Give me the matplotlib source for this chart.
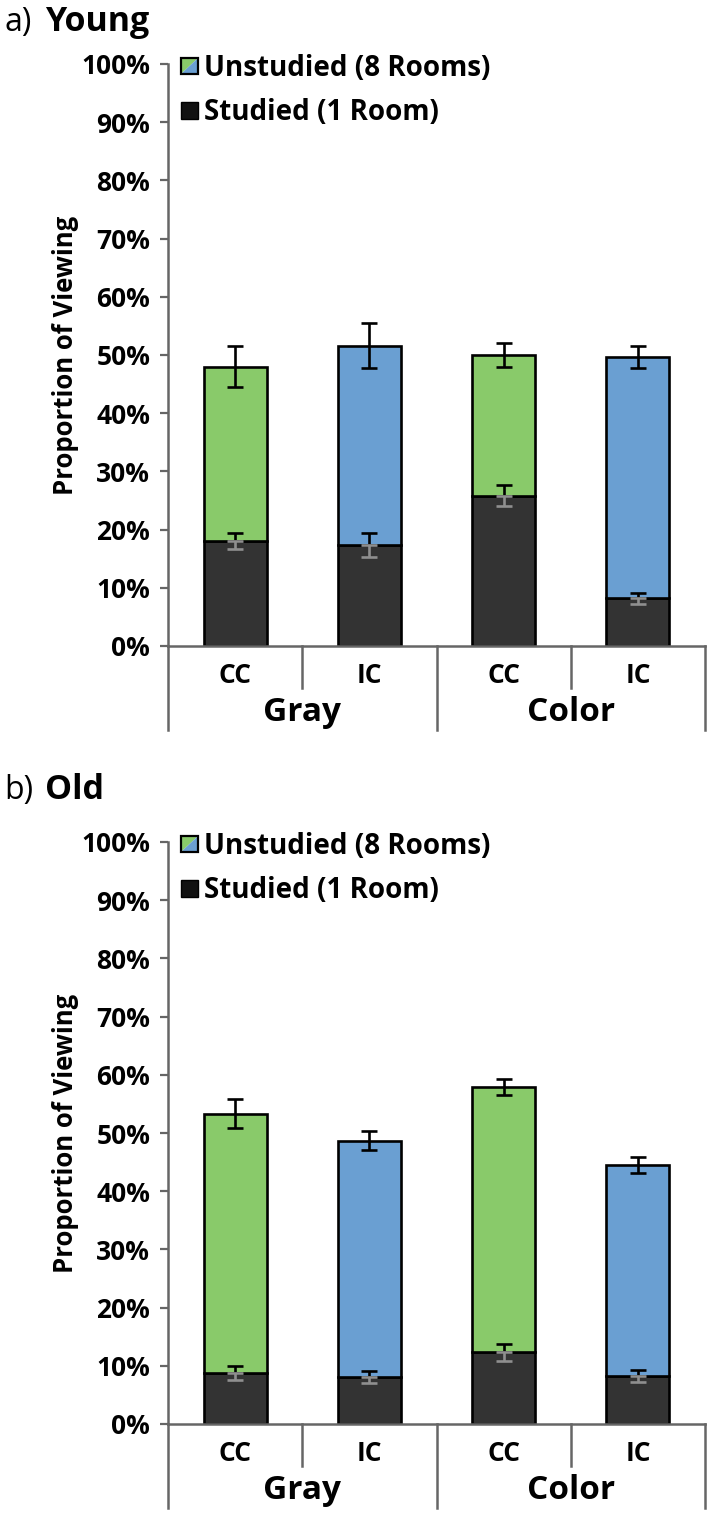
import numpy as np
import matplotlib
matplotlib.use("Agg")
import matplotlib.pyplot as plt
from matplotlib.legend_handler import HandlerBase
from matplotlib.patches import Polygon, Rectangle, Patch
import matplotlib.ticker as ticker

plt.rcParams['font.family'] = ['Open Sans', 'DejaVu Sans']

# ---- data (percent) ----
conditions = ["CC", "IC", "CC", "IC"]
groups = ["Gray", "Color"]

young_studied = [18.0, 17.4, 25.8, 8.2]
young_studied_err = [1.4, 2.1, 1.8, 0.9]
young_total = [48.0, 51.6, 50.0, 49.6]
young_total_err = [3.5, 3.9, 2.0, 1.9]

old_studied = [8.7, 8.1, 12.3, 8.3]
old_studied_err = [1.2, 1.0, 1.5, 1.0]
old_total = [53.3, 48.7, 57.9, 44.5]
old_total_err = [2.5, 1.7, 1.3, 1.3]

yticks = [0, 10, 20, 30, 40, 50, 60, 70, 80, 90, 100]

GREEN = "#89ca6a"
BLUE = "#6a9fd2"
DARK = "#333333"
AXGRAY = "#666666"
ERRGRAY = "#8f8f8f"
unstudied_colors = [GREEN, BLUE, GREEN, BLUE]


class SplitHandler(HandlerBase):
    def create_artists(self, legend, orig_handle, xdescent, ydescent,
                       width, height, fontsize, trans):
        s = min(width, height)
        x0 = -xdescent
        y0 = -ydescent + (height - s) / 2
        g = Polygon([[x0, y0], [x0, y0 + s], [x0 + s, y0 + s]],
                    facecolor=GREEN, edgecolor='none', transform=trans)
        b = Polygon([[x0, y0], [x0 + s, y0], [x0 + s, y0 + s]],
                    facecolor=BLUE, edgecolor='none', transform=trans)
        r = Rectangle((x0, y0), s, s, fill=False, edgecolor='black',
                      lw=1.6, transform=trans)
        return [g, b, r]


def draw_panel(ax, studied, studied_err, total, total_err):
    x = np.arange(len(conditions))
    w = 0.47
    unstudied = np.array(total) - np.array(studied)
    ax.bar(x, studied, w, color=DARK, edgecolor='black', lw=1.9, zorder=2)
    ax.bar(x, unstudied, w, bottom=studied, color=unstudied_colors,
           edgecolor='black', lw=1.9, zorder=2)

    ekw = dict(fmt='none', capsize=5.5, elinewidth=1.9, capthick=1.9, zorder=3)
    zeros = np.zeros(len(x))
    # studied: upper half black, lower half gray
    ax.errorbar(x, studied, yerr=[zeros, studied_err], ecolor='black', **ekw)
    ax.errorbar(x, studied, yerr=[studied_err, zeros], ecolor=ERRGRAY, **ekw)
    ax.errorbar(x, total, yerr=total_err, ecolor='black', **ekw)

    ax.set_xlim(-0.5, 3.5)
    ax.set_ylim(0, 100)
    ax.set_yticks(yticks)
    ax.yaxis.set_major_formatter(ticker.FuncFormatter(lambda v, p: f"{v:.0f}%"))
    for lab in ax.get_yticklabels():
        lab.set_fontweight('bold')
    ax.tick_params(axis='y', direction='out', length=5.8, width=1.6,
                   color=AXGRAY, labelsize=19, pad=7)
    ax.set_xticks([])
    for sp in ['top', 'right']:
        ax.spines[sp].set_visible(False)
    for sp in ['left', 'bottom']:
        ax.spines[sp].set_color(AXGRAY)
        ax.spines[sp].set_linewidth(1.8)

    ax.set_ylabel("Proportion of Viewing", fontsize=18.5, fontweight='bold',
                  labelpad=2)

    # hierarchical category axis below the plot
    tr = ax.get_xaxis_transform()
    for xs in [0.5, 2.5]:
        ax.plot([xs, xs], [0, -0.073], transform=tr, color=AXGRAY, lw=1.8,
                clip_on=False)
    for xs in [-0.5, 1.5, 3.5]:
        ax.plot([xs, xs], [0, -0.145], transform=tr, color=AXGRAY, lw=1.8,
                clip_on=False)
    for i, c in enumerate(conditions):
        ax.text(i, -0.05, c, transform=tr, ha='center', va='center',
                fontsize=19, fontweight='bold')
    for j, g in enumerate(groups):
        ax.text(2 * j + 0.5, -0.115, g, transform=tr, ha='center', va='center',
                fontsize=24, fontweight='bold')

    h1 = Patch(facecolor=GREEN)
    h2 = Patch(facecolor='#111111', edgecolor='black')
    ax.legend([h1, h2], ["Unstudied (8 Rooms)", "Studied (1 Room)"],
              handler_map={h1: SplitHandler()}, loc='upper left',
              bbox_to_anchor=(0.025, 1.017), frameon=False,
              prop={'weight': 'bold', 'size': 20},
              handlelength=0.58, handleheight=0.58, handletextpad=0.25,
              labelspacing=0.55, borderpad=0, borderaxespad=0)


fig = plt.figure(figsize=(7.07, 15.14), dpi=100)
left = 168 / 707
width = (705 - 168) / 707
ax1 = fig.add_axes([left, 1 - 646 / 1514, width, 582 / 1514])
ax2 = fig.add_axes([left, 1 - 1424 / 1514, width, 582 / 1514])

draw_panel(ax1, young_studied, young_studied_err, young_total, young_total_err)
draw_panel(ax2, old_studied, old_studied_err, old_total, old_total_err)

for ypix, lab, name in [(22, "a)", "Young"), (790, "b)", "Old")]:
    fig.text(4 / 707, 1 - ypix / 1514, lab, fontsize=23, va='center', ha='left')
    fig.text(45 / 707, 1 - ypix / 1514, name, fontsize=24.5, fontweight='bold',
             va='center', ha='left')

fig.savefig("out.png", dpi=100)
